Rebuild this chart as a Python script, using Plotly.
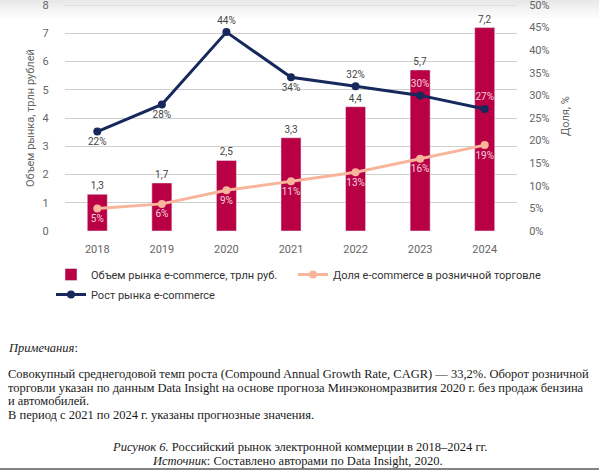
import plotly.graph_objects as go

years = ["2018", "2019", "2020", "2021", "2022", "2023", "2024"]
volume = [1.3, 1.7, 2.5, 3.3, 4.4, 5.7, 7.2]          # трлн руб.
growth = [22, 28, 44, 34, 32, 30, 27]                 # %
share = [5, 6, 9, 11, 13, 16, 19]                     # %
growth_pos = ["bottom center", "bottom center", "top center", "bottom center",
              "top center", "top center", "top center"]
growth_txtcol = ["#444444", "#444444", "#444444", "#444444", "#444444", "#F6D3DD", "#F6D3DD"]

name_vol = "Объем рынка e-commerce, трлн руб."
name_share = "Доля e-commerce в розничной торговле"
name_growth = "Рост рынка e-commerce"
title_left = "Объем рынка, трлн рублей"
title_right = "Доля, %"

W, H = 599, 473
L, R, T, B = 65, 517, 5, 231  # plot area in px


def px(x):
    return (x - L) / (R - L)


def py(y):
    return (B - y) / (B - T)


CRIMSON = "#B90045"
NAVY = "#16285C"
PEACH = "#F8B59C"
SANS = "Roboto, Arial, sans-serif"
SERIF = "Liberation Serif, Times New Roman, serif"

fig = go.Figure()
fig.add_trace(go.Bar(
    x=years, y=volume, name=name_vol, marker_color=CRIMSON, width=0.31,
    text=[f"{v:.1f}".replace(".", ",") for v in volume], textposition="outside",
    textfont=dict(size=10, color="#444444", family=SANS), cliponaxis=False,
    yaxis="y", legend="legend",
))
fig.add_trace(go.Scatter(
    x=years, y=share, name=name_share, mode="lines+markers+text",
    line=dict(color=PEACH, width=3), marker=dict(size=8, color=PEACH),
    text=[f"{v}%" for v in share], textposition="bottom center",
    textfont=dict(size=10, color="#F6D3DD", family=SANS), yaxis="y2",
    cliponaxis=False, legend="legend2",
))
fig.add_trace(go.Scatter(
    x=years, y=growth, name=name_growth, mode="lines+markers+text",
    line=dict(color=NAVY, width=3), marker=dict(size=8, color=NAVY),
    text=[f"{v}%" for v in growth], textposition=growth_pos,
    textfont=dict(size=10, color=growth_txtcol, family=SANS), yaxis="y2",
    cliponaxis=False, legend="legend3",
))

# top shading
shades = ["#e9e9e9", "#ededed", "#f1f1f1", "#f5f5f5", "#f8f8f8", "#fbfbfb"]
shapes = []
for i, c in enumerate(shades):
    shapes.append(dict(type="rect", xref="paper", yref="paper",
                       x0=px(0), x1=px(W), y0=py(3 * (i + 1)), y1=py(3 * i),
                       fillcolor=c, line=dict(width=0), layer="below"))
# bottom rule
shapes.append(dict(type="rect", xref="paper", yref="paper", x0=px(0), x1=px(W),
                   y0=py(470), y1=py(468), fillcolor="#858585", line=dict(width=0),
                   layer="above"))

notes = [
    ("<i>Примечания</i>:", 6, 348, "left"),
    ("Совокупный среднегодовой темп роста (Compound Annual Growth Rate, CAGR) — 33,2%. Оборот розничной", 6, 374, "left"),
    ("торговли указан по данным Data Insight на основе прогноза Минэкономразвития 2020 г. без продаж бензина", 6, 388, "left"),
    ("и автомобилей.", 6, 401, "left"),
    ("В период с 2021 по 2024 г. указаны прогнозные значения.", 6, 415, "left"),
    ("<i>Рисунок 6.</i> Российский рынок электронной коммерции в 2018–2024 гг.", 299, 447, "center"),
    ("<i>Источник</i>: Составлено авторами по Data Insight, 2020.", 297, 461, "center"),
]
annotations = []
for txt, x, y, anc in notes:
    annotations.append(dict(text=txt, xref="paper", yref="paper", x=px(x), y=py(y),
                            xanchor=anc, yanchor="middle", showarrow=False,
                            font=dict(family=SERIF, size=12.5, color="#1a1a1a")))
# axis titles
annotations.append(dict(text=title_left, xref="paper", yref="paper", x=px(30), y=py(118),
                        xanchor="center", yanchor="middle", textangle=-90, showarrow=False,
                        font=dict(family=SANS, size=11, color="#666666")))
annotations.append(dict(text=title_right, xref="paper", yref="paper", x=px(565), y=py(116),
                        xanchor="center", yanchor="middle", textangle=-90, showarrow=False,
                        font=dict(family=SANS, size=11, color="#666666")))

legend_common = dict(orientation="v", xanchor="left", yanchor="top",
                     font=dict(family=SANS, size=11, color="#333333"),
                     bgcolor="rgba(0,0,0,0)", traceorder="normal", tracegroupgap=0)

fig.update_layout(
    width=W, height=H,
    margin=dict(l=L, r=W - R, t=T, b=H - B, autoexpand=False),
    paper_bgcolor="white", plot_bgcolor="white",
    font=dict(family=SANS, size=11, color="#555555"),
    showlegend=True,
    legend=dict(x=px(51), y=py(260), **legend_common),
    legend2=dict(x=px(293), y=py(260), **legend_common),
    legend3=dict(x=px(51), y=py(280), **legend_common),
    xaxis=dict(type="category", showgrid=False, showline=False, zeroline=False,
               ticks="outside", ticklen=8, tickcolor="rgba(0,0,0,0)",
               tickfont=dict(size=11, color="#666666")),
    yaxis=dict(range=[0, 8], dtick=1, tick0=0, showgrid=True, gridcolor="#cfcfcf", gridwidth=1,
               zeroline=False, showline=False, ticks="outside", ticklen=13,
               tickcolor="rgba(0,0,0,0)", tickfont=dict(size=11, color="#666666"),
               ticklabeloverflow="allow"),
    yaxis2=dict(range=[0, 50], dtick=5, tick0=0, overlaying="y", side="right", showgrid=False,
                zeroline=False, showline=False, ticksuffix="%", ticks="outside", ticklen=9,
                tickcolor="rgba(0,0,0,0)", tickfont=dict(size=11, color="#666666"),
                ticklabeloverflow="allow"),
    shapes=shapes,
    annotations=annotations,
)
fig.add_hline(y=8, line=dict(color="#cfcfcf", width=1), layer="below")

fig.write_html("out.html")
